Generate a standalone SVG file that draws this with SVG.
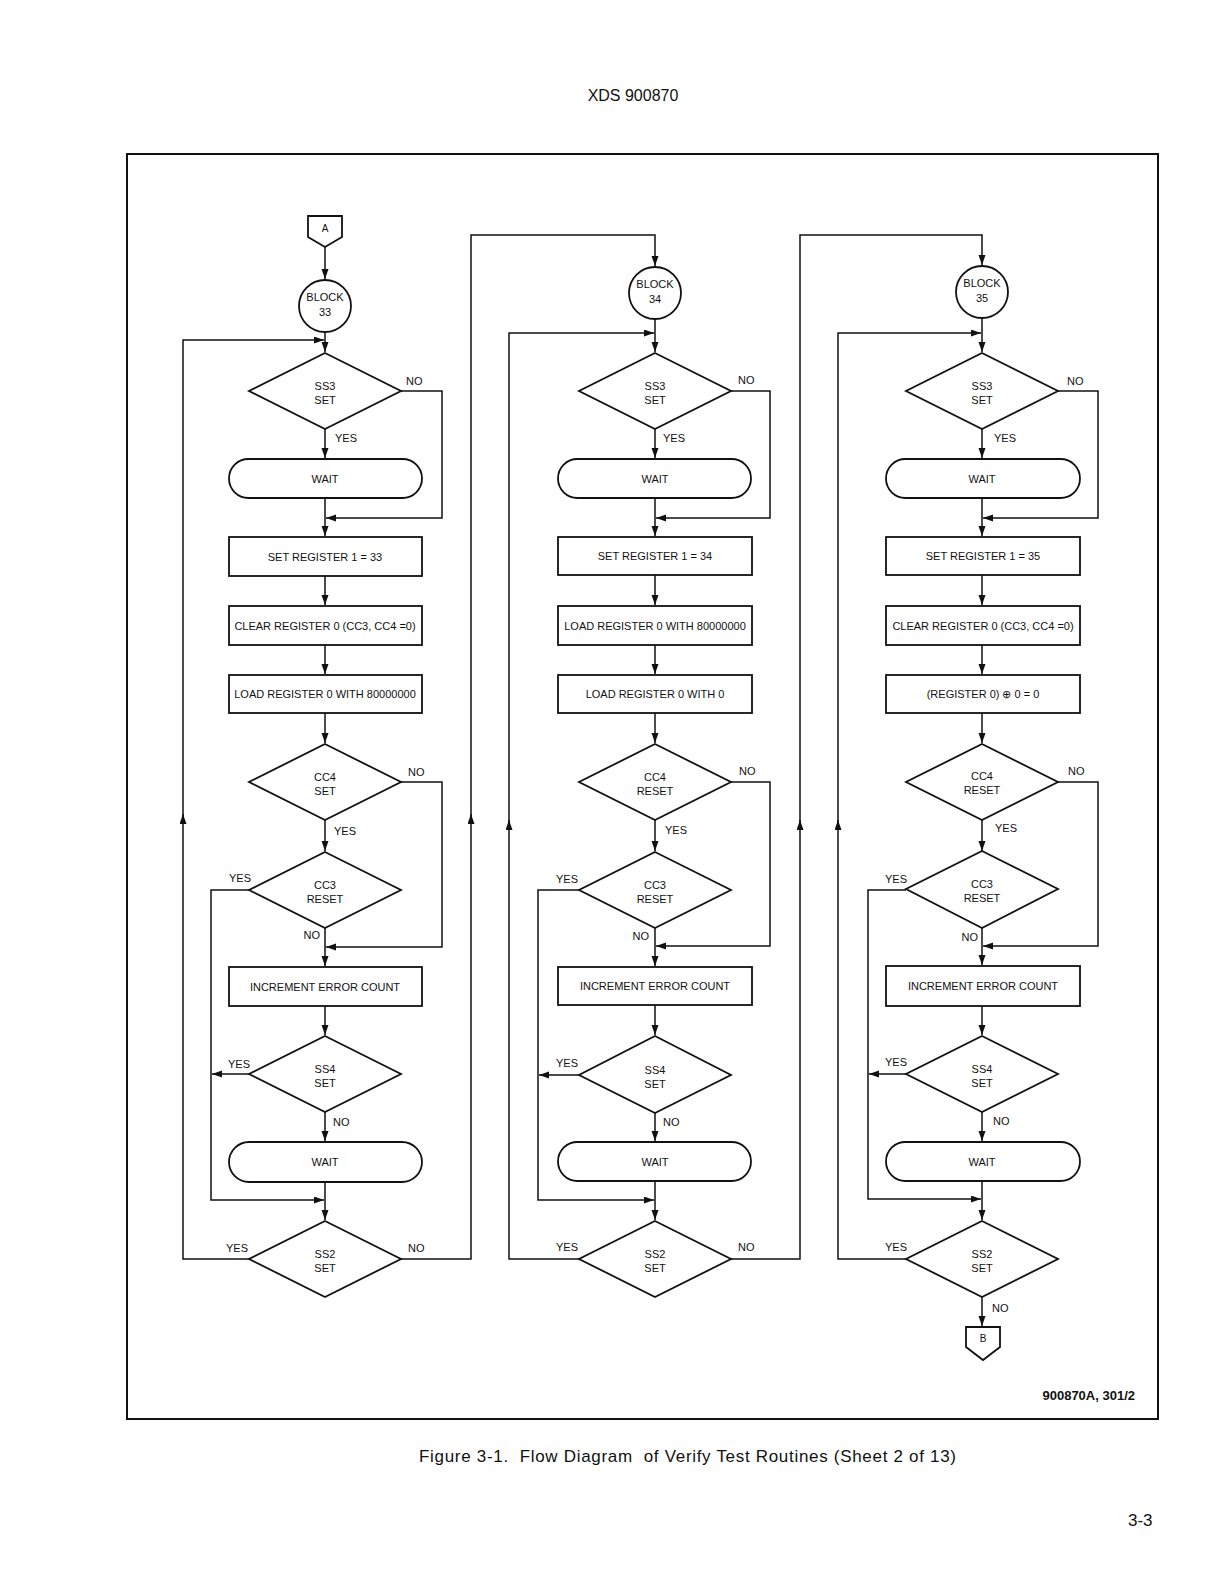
<svg xmlns="http://www.w3.org/2000/svg" width="1224" height="1584" viewBox="0 0 1224 1584">
<style>
text{font-family:"Liberation Sans",Arial,sans-serif;fill:#111}
.t{font-size:11px;text-anchor:middle}
.l{font-size:11px}
.e{font-size:11px;text-anchor:end}
.s{fill:#fff;stroke:#111;stroke-width:1.8}
.c{fill:none;stroke:#111;stroke-width:1.5}
.a{marker-end:url(#ah)}
</style>
<defs>
<marker id="ah" markerUnits="userSpaceOnUse" markerWidth="10" markerHeight="8" refX="10" refY="3.5" orient="auto">
<path d="M0,0 L10,3.5 L0,7 z" fill="#111"/>
</marker>
</defs>
<rect width="1224" height="1584" fill="#fff"/>
<text x="633" y="101" style="font-size:16px;text-anchor:middle">XDS 900870</text>
<rect x="127" y="154" width="1031" height="1265" fill="none" stroke="#111" stroke-width="2"/>

<g id="connectors">
<!-- column 1 -->
<path class="c a" d="M325,247 V279"/>
<path class="c a" d="M325,332 V352"/>
<path class="c a" d="M325,429 V458"/>
<path class="c a" d="M325,498 V536"/>
<path class="c a" d="M401,391 H442 V518 H326"/>
<path class="c a" d="M325,576 V605"/>
<path class="c a" d="M325,645 V674"/>
<path class="c a" d="M325,713 V743"/>
<path class="c a" d="M401,782 H442 V947 H326"/>
<path class="c a" d="M325,820 V851"/>
<path class="c a" d="M325,928 V966"/>
<path class="c a" d="M249,890 H211 V1200 H324"/>
<path class="c a" d="M325,1006 V1035"/>
<path class="c a" d="M249,1074 H212"/>
<path class="c a" d="M325,1112 V1141"/>
<path class="c a" d="M325,1182 V1220"/>
<path class="c a" d="M249,1259 H183 V814"/>
<path class="c a" d="M183,818 V340 H324"/>
<path class="c a" d="M401,1259 H471 V814"/>
<path class="c a" d="M471,818 V235 H655 V266"/>
<!-- column 2 -->
<path class="c a" d="M655,319 V352"/>
<path class="c a" d="M655,429 V458"/>
<path class="c a" d="M655,498 V536"/>
<path class="c a" d="M731,391 H770 V518 H656"/>
<path class="c a" d="M655,575 V605"/>
<path class="c a" d="M655,645 V674"/>
<path class="c a" d="M655,713 V743"/>
<path class="c a" d="M731,782 H770 V946 H656"/>
<path class="c a" d="M655,820 V851"/>
<path class="c a" d="M655,928 V966"/>
<path class="c a" d="M579,890 H538 V1200 H654"/>
<path class="c a" d="M655,1005 V1035"/>
<path class="c a" d="M579,1075 H539"/>
<path class="c a" d="M655,1113 V1141"/>
<path class="c a" d="M655,1181 V1220"/>
<path class="c a" d="M579,1259 H509 V820"/>
<path class="c a" d="M509,824 V333 H654"/>
<path class="c a" d="M731,1259 H800 V820"/>
<path class="c a" d="M800,824 V235 H982 V265"/>
<!-- column 3 -->
<path class="c a" d="M982,318 V352"/>
<path class="c a" d="M982,429 V458"/>
<path class="c a" d="M982,498 V536"/>
<path class="c a" d="M1058,391 H1098 V518 H983"/>
<path class="c a" d="M982,575 V605"/>
<path class="c a" d="M982,645 V674"/>
<path class="c a" d="M982,713 V743"/>
<path class="c a" d="M1058,782 H1098 V946 H983"/>
<path class="c a" d="M982,820 V851"/>
<path class="c a" d="M982,928 V965"/>
<path class="c a" d="M906,890 H868 V1199 H981"/>
<path class="c a" d="M982,1006 V1035"/>
<path class="c a" d="M906,1074 H869"/>
<path class="c a" d="M982,1112 V1141"/>
<path class="c a" d="M982,1181 V1220"/>
<path class="c a" d="M906,1259 H838 V820"/>
<path class="c a" d="M838,824 V333 H981"/>
<path class="c a" d="M982,1297 V1326"/>
</g>

<g id="labels">
<text class="l" x="406" y="385">NO</text>
<text class="l" x="335" y="442">YES</text>
<text class="l" x="408" y="776">NO</text>
<text class="l" x="334" y="835">YES</text>
<text class="e" x="251" y="882">YES</text>
<text class="e" x="320" y="939">NO</text>
<text class="e" x="250" y="1068">YES</text>
<text class="l" x="333" y="1126">NO</text>
<text class="e" x="248" y="1252">YES</text>
<text class="l" x="408" y="1252">NO</text>

<text class="l" x="738" y="384">NO</text>
<text class="l" x="663" y="442">YES</text>
<text class="l" x="739" y="775">NO</text>
<text class="l" x="665" y="834">YES</text>
<text class="e" x="578" y="883">YES</text>
<text class="e" x="649" y="940">NO</text>
<text class="e" x="578" y="1067">YES</text>
<text class="l" x="663" y="1126">NO</text>
<text class="e" x="578" y="1251">YES</text>
<text class="l" x="738" y="1251">NO</text>

<text class="l" x="1067" y="385">NO</text>
<text class="l" x="994" y="442">YES</text>
<text class="l" x="1068" y="775">NO</text>
<text class="l" x="995" y="832">YES</text>
<text class="e" x="907" y="883">YES</text>
<text class="e" x="978" y="941">NO</text>
<text class="e" x="907" y="1066">YES</text>
<text class="l" x="993" y="1125">NO</text>
<text class="e" x="907" y="1251">YES</text>
<text class="l" x="992" y="1312">NO</text>
</g>

<!-- column 1 nodes -->
<g id="conn-A"><path class="s" d="M308,216 H342 V237 L325,247 L308,237 Z"/><text class="t" x="325" y="232" style="font-size:10px">A</text></g>
<g id="block33"><circle class="s" cx="325" cy="306" r="26"/><text class="t" x="325" y="301">BLOCK</text><text class="t" x="325" y="316">33</text></g>
<g id="ss3-1"><path class="s" d="M325,353 L401,391 L325,429 L249,391 Z"/><text class="t" x="325" y="390">SS3</text><text class="t" x="325" y="404">SET</text></g>
<g id="wait1-1"><rect class="s" x="229" y="459" width="193" height="39" rx="19.5"/><text class="t" x="325" y="483">WAIT</text></g>
<g id="setreg-1"><rect class="s" x="229" y="537" width="193" height="39"/><text class="t" x="325" y="561">SET REGISTER 1 = 33</text></g>
<g id="clear-1"><rect class="s" x="229" y="606" width="193" height="39"/><text class="t" x="325" y="630">CLEAR REGISTER 0 (CC3, CC4 =0)</text></g>
<g id="load-1"><rect class="s" x="229" y="675" width="193" height="38"/><text class="t" x="325" y="698">LOAD REGISTER 0 WITH 80000000</text></g>
<g id="cc4-1"><path class="s" d="M325,744 L401,782 L325,820 L249,782 Z"/><text class="t" x="325" y="781">CC4</text><text class="t" x="325" y="795">SET</text></g>
<g id="cc3-1"><path class="s" d="M325,852 L401,890 L325,928 L249,890 Z"/><text class="t" x="325" y="889">CC3</text><text class="t" x="325" y="903">RESET</text></g>
<g id="incr-1"><rect class="s" x="229" y="967" width="193" height="39"/><text class="t" x="325" y="991">INCREMENT ERROR COUNT</text></g>
<g id="ss4-1"><path class="s" d="M325,1036 L401,1074 L325,1112 L249,1074 Z"/><text class="t" x="325" y="1073">SS4</text><text class="t" x="325" y="1087">SET</text></g>
<g id="wait2-1"><rect class="s" x="229" y="1142" width="193" height="40" rx="20"/><text class="t" x="325" y="1166">WAIT</text></g>
<g id="ss2-1"><path class="s" d="M325,1221 L401,1259 L325,1297 L249,1259 Z"/><text class="t" x="325" y="1258">SS2</text><text class="t" x="325" y="1272">SET</text></g>

<!-- column 2 nodes -->
<g id="block34"><circle class="s" cx="655" cy="293" r="26"/><text class="t" x="655" y="288">BLOCK</text><text class="t" x="655" y="303">34</text></g>
<g id="ss3-2"><path class="s" d="M655,353 L731,391 L655,429 L579,391 Z"/><text class="t" x="655" y="390">SS3</text><text class="t" x="655" y="404">SET</text></g>
<g id="wait1-2"><rect class="s" x="558" y="459" width="193" height="39" rx="19.5"/><text class="t" x="655" y="483">WAIT</text></g>
<g id="setreg-2"><rect class="s" x="558" y="537" width="194" height="38"/><text class="t" x="655" y="560">SET REGISTER 1 = 34</text></g>
<g id="load-2"><rect class="s" x="558" y="606" width="194" height="39"/><text class="t" x="655" y="630">LOAD REGISTER 0 WITH 80000000</text></g>
<g id="load0-2"><rect class="s" x="558" y="675" width="194" height="38"/><text class="t" x="655" y="698">LOAD REGISTER 0 WITH 0</text></g>
<g id="cc4-2"><path class="s" d="M655,744 L731,782 L655,820 L579,782 Z"/><text class="t" x="655" y="781">CC4</text><text class="t" x="655" y="795">RESET</text></g>
<g id="cc3-2"><path class="s" d="M655,852 L731,890 L655,928 L579,890 Z"/><text class="t" x="655" y="889">CC3</text><text class="t" x="655" y="903">RESET</text></g>
<g id="incr-2"><rect class="s" x="558" y="967" width="194" height="38"/><text class="t" x="655" y="990">INCREMENT ERROR COUNT</text></g>
<g id="ss4-2"><path class="s" d="M655,1036 L731,1075 L655,1113 L579,1075 Z"/><text class="t" x="655" y="1074">SS4</text><text class="t" x="655" y="1088">SET</text></g>
<g id="wait2-2"><rect class="s" x="558" y="1142" width="193" height="39" rx="19.5"/><text class="t" x="655" y="1166">WAIT</text></g>
<g id="ss2-2"><path class="s" d="M655,1221 L731,1259 L655,1297 L579,1259 Z"/><text class="t" x="655" y="1258">SS2</text><text class="t" x="655" y="1272">SET</text></g>

<!-- column 3 nodes -->
<g id="block35"><circle class="s" cx="982" cy="292" r="26"/><text class="t" x="982" y="287">BLOCK</text><text class="t" x="982" y="302">35</text></g>
<g id="ss3-3"><path class="s" d="M982,353 L1058,391 L982,429 L906,391 Z"/><text class="t" x="982" y="390">SS3</text><text class="t" x="982" y="404">SET</text></g>
<g id="wait1-3"><rect class="s" x="886" y="459" width="194" height="39" rx="19.5"/><text class="t" x="982" y="483">WAIT</text></g>
<g id="setreg-3"><rect class="s" x="886" y="537" width="194" height="38"/><text class="t" x="983" y="560">SET REGISTER 1 = 35</text></g>
<g id="clear-3"><rect class="s" x="886" y="606" width="194" height="39"/><text class="t" x="983" y="630">CLEAR REGISTER 0 (CC3, CC4 =0)</text></g>
<g id="xor-3"><rect class="s" x="886" y="675" width="194" height="38"/><text class="t" x="983" y="698">(REGISTER 0) ⊕ 0 = 0</text></g>
<g id="cc4-3"><path class="s" d="M982,744 L1058,782 L982,820 L906,782 Z"/><text class="t" x="982" y="780">CC4</text><text class="t" x="982" y="794">RESET</text></g>
<g id="cc3-3"><path class="s" d="M982,851 L1058,889 L982,928 L906,889 Z"/><text class="t" x="982" y="888">CC3</text><text class="t" x="982" y="902">RESET</text></g>
<g id="incr-3"><rect class="s" x="886" y="966" width="194" height="40"/><text class="t" x="983" y="990">INCREMENT ERROR COUNT</text></g>
<g id="ss4-3"><path class="s" d="M982,1036 L1058,1074 L982,1112 L906,1074 Z"/><text class="t" x="982" y="1073">SS4</text><text class="t" x="982" y="1087">SET</text></g>
<g id="wait2-3"><rect class="s" x="886" y="1142" width="194" height="39" rx="19.5"/><text class="t" x="982" y="1166">WAIT</text></g>
<g id="ss2-3"><path class="s" d="M982,1221 L1058,1259 L982,1297 L906,1259 Z"/><text class="t" x="982" y="1258">SS2</text><text class="t" x="982" y="1272">SET</text></g>
<g id="conn-B"><path class="s" d="M966,1327 H1000 V1347 L983,1360 L966,1347 Z"/><text class="t" x="983" y="1342" style="font-size:10px">B</text></g>

<text x="1135" y="1400" style="font-size:13px;font-weight:bold;text-anchor:end">900870A, 301/2</text>
<text x="419" y="1462" style="font-size:17px" textLength="537" lengthAdjust="spacing" xml:space="preserve">Figure 3-1.  Flow Diagram  of Verify Test Routines (Sheet 2 of 13)</text>
<text x="1128" y="1526" style="font-size:17px">3-3</text>
</svg>
